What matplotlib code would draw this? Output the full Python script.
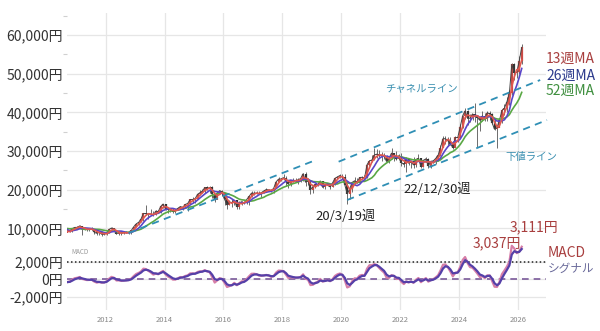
import matplotlib
matplotlib.use("Agg")
import matplotlib.pyplot as plt
import matplotlib.dates as mdates
from matplotlib.ticker import FuncFormatter, MultipleLocator
import pandas as pd

plt.rcParams['font.family'] = ['Noto Sans CJK JP', 'DejaVu Sans']

# monthly candles, 2009-10 .. 2026-02 (first 11 months only warm up the averages)
start = '2009-10'
close = [10035, 9345, 10546,
         10198, 10126, 11090, 11057, 9769, 9383, 9537, 8824, 9369, 9202, 9937, 10229,
         10238, 10624, 9755, 9850, 9694, 9816, 9833, 8955, 8700, 8988, 8435, 8455,
         8803, 9723, 10084, 9521, 8543, 9007, 8695, 8840, 8870, 8928, 9446, 10395,
         11139, 11559, 12398, 13861, 13775, 13677, 13668, 13389, 14456, 14328, 15662, 16291,
         14915, 14841, 14828, 14304, 14632, 15162, 15621, 15425, 16174, 16414, 17460, 17451,
         17674, 18798, 19207, 19520, 20563, 20236, 20585, 18890, 17388, 19083, 19747, 19034,
         17518, 16027, 16759, 16666, 17235, 15576, 16569, 16887, 16450, 17425, 18308, 19114,
         19041, 19119, 18909, 19197, 19651, 20033, 19925, 19646, 20356, 22012, 22725, 22765,
         23098, 22068, 21454, 22468, 22202, 22305, 22554, 22865, 24120, 21920, 22351, 20015,
         20773, 21385, 21206, 22259, 20601, 21276, 21522, 20704, 21756, 22927, 23294, 23657,
         23205, 21143, 18917, 20194, 21878, 22288, 21710, 23140, 23185, 22977, 26434, 27444,
         27663, 28966, 29179, 28813, 28860, 28792, 27284, 28090, 29453, 28893, 27822, 28792,
         27002, 26527, 27821, 26848, 27280, 26393, 27802, 28092, 25937, 27587, 27969, 26095,
         27327, 27446, 28041, 28856, 30888, 33189, 33172, 32619, 31858, 30859, 33487, 33464,
         36287, 39166, 40369, 38406, 38488, 39583, 39102, 38648, 37920, 39081, 38208, 39895,
         39572, 37156, 35618, 36045, 37965, 40487, 41070, 42718, 44933, 52411, 50254, 50339,
         53300, 56800]
high = [10336, 10110, 10639,
        10982, 10269, 11097, 11408, 11000, 10251, 9800, 9642, 9627, 9691, 10115, 10371,
        10592, 10891, 10693, 9850, 10017, 9868, 10207, 9890, 9052, 9152, 9050, 8727,
        8866, 9866, 10255, 10190, 9500, 9007, 9136, 9222, 9288, 9180, 9490, 10433,
        11256, 11662, 12650, 13979, 15942, 13800, 14953, 14466, 14817, 14828, 15727, 16320,
        16164, 14924, 15312, 15164, 14700, 15376, 15646, 15759, 16374, 16533, 17520, 18030,
        17850, 18826, 19778, 20133, 20655, 20953, 20850, 20946, 18770, 19160, 20012, 20012,
        18951, 17905, 17291, 17613, 17251, 16944, 16938, 16943, 17066, 17446, 18361, 19592,
        19615, 19668, 19656, 19445, 19961, 20318, 20195, 20080, 20481, 22080, 23382, 22953,
        24129, 23486, 21970, 22467, 23050, 22966, 22949, 22869, 24286, 24448, 22698, 22574,
        20941, 21556, 21860, 22362, 22307, 21464, 21823, 21540, 22255, 22974, 23608, 24091,
        24115, 23995, 21719, 20365, 21916, 23185, 22963, 23338, 23564, 23725, 26716, 27602,
        28979, 30714, 30485, 30208, 29685, 29480, 28852, 28455, 30795, 29388, 29960, 29121,
        29388, 27880, 28338, 27580, 27495, 28389, 27849, 29222, 28251, 27656, 28502, 28142,
        27520, 27697, 28734, 28879, 31560, 33772, 33753, 33488, 33634, 32533, 33853, 33824,
        36984, 39426, 41087, 40697, 39437, 39637, 42426, 38877, 39100, 40257, 39884, 40398,
        40288, 39865, 38220, 36452, 38494, 40852, 42065, 43876, 45852, 52636, 52637, 51000,
        54500, 57600]
low = [9674, 9076, 9382,
       10198, 9868, 10130, 10900, 9460, 9383, 9091, 8796, 8918, 9027, 9123, 9988,
       10229, 10276, 8227, 9440, 9420, 9351, 9780, 8619, 8359, 8343, 8135, 8160,
       8378, 8820, 9623, 9388, 8438, 8238, 8328, 8560, 8680, 8488, 8619, 9420,
       10398, 10926, 11500, 12003, 13555, 12415, 13560, 13188, 13409, 13853, 14000, 15150,
       14808, 13995, 14203, 13885, 13964, 14700, 15155, 14753, 15419, 14529, 16720, 16672,
       16592, 17580, 18578, 19034, 19258, 19990, 19115, 17714, 16901, 17600, 18970, 18413,
       16017, 14865, 16004, 15471, 16106, 14864, 15007, 16046, 16231, 16338, 16111, 18169,
       18650, 18800, 18909, 18224, 19128, 19700, 19850, 19280, 19235, 20400, 21972, 22152,
       22681, 20950, 20347, 21055, 21931, 21857, 21462, 21851, 22307, 20971, 21243, 18948,
       19241, 20315, 20911, 21509, 20553, 20289, 21046, 20110, 20625, 21276, 22851, 23044,
       22892, 21082, 16358, 17646, 19448, 21530, 21710, 21710, 22880, 22948, 22948, 26147,
       27055, 27629, 28308, 28419, 27385, 28012, 27272, 26954, 28050, 27293, 27644, 27594,
       26044, 25775, 24681, 26319, 25688, 25520, 25935, 27650, 25621, 25811, 27236, 25661,
       25662, 27000, 26632, 27427, 28759, 31100, 31791, 31275, 31674, 30538, 31601, 32205,
       33288, 35854, 38271, 36733, 37617, 37950, 37611, 31156, 35247, 37651, 37800, 37880,
       38055, 36857, 35526, 30792, 36100, 37200, 39300, 40100, 41800, 44550, 48235, 49000,
       50000, 52500]

# hand-drawn trend lines (decimal year, price)
chan1_x, chan1_y = [2012.78, 2019.05], [8784, 27400]
chan2_x, chan2_y = [2019.91, 2026.75], [27230, 48360]
floor_x, floor_y = [2020.20, 2026.98], [17320, 38010]

macd_last, signal_last = '3,111円', '3,037円'

dates = pd.date_range(start, periods=len(close), freq='MS') + pd.Timedelta(days=14)
s = pd.Series(close, index=dates)
opn = s.shift(1).fillna(s.iloc[0])
ma13 = s.rolling(3).mean()
ma26 = s.rolling(6).mean()
ma52 = s.rolling(12).mean()
# weekly 12/26/9 MACD expressed in months
macd = s.ewm(span=3.0, adjust=False).mean() - s.ewm(span=7.2, adjust=False).mean()
signal = macd.ewm(span=2.6, adjust=False).mean()


def yr(v):
    y = int(v)
    frac = v - y
    return pd.Timestamp(f'{y}-01-01') + pd.Timedelta(days=frac * 365.25)


W, H = 600, 331
fig = plt.figure(figsize=(6, 3.31), dpi=100)
ax = fig.add_axes([67 / W, 1 - 242 / H, (546 - 67) / W, (242 - 13) / H])
ax2 = fig.add_axes([67 / W, 1 - 310 / H, (546 - 67) / W, (310 - 242) / H], sharex=ax)

grid = '#e6e6e6'
for a in (ax, ax2):
    for sp in a.spines.values():
        sp.set_visible(False)
    a.grid(True, color=grid, lw=0.9)
    a.set_axisbelow(True)
    a.tick_params(length=0, labelsize=10, colors='#333333', pad=3)

# candles
up = s >= opn
ax.vlines(dates, low, high, color='#555555', lw=0.6, zorder=2)
ax.vlines(dates[up], opn[up], s[up], color='#c94a45', lw=1.6, zorder=3)
ax.vlines(dates[~up], opn[~up], s[~up], color='#333333', lw=1.6, zorder=3)
ax.plot(dates, s, color='#444444', lw=0.7, zorder=3)

ax.plot(dates, ma52, color='#5aa845', lw=1.2, zorder=4)
ax.plot(dates, ma26, color='#5a46c8', lw=1.2, zorder=4)
ax.plot(dates, ma13, color='#e0584f', lw=1.2, zorder=4)

for xs, ys in ((chan1_x, chan1_y), (chan2_x, chan2_y), (floor_x, floor_y)):
    ax.plot([yr(v) for v in xs], ys, color='#2f8fb5', lw=1.3, ls=(0, (4, 3)), zorder=5,
            clip_on=False)

ax.set_ylim(6456, 65690)
ax.set_yticks(range(10000, 60001, 10000))
ax.yaxis.set_minor_locator(MultipleLocator(5000))
ax.tick_params(axis='y', which='minor', length=3, color='#d0d0d0', width=0.8)
ax.yaxis.set_major_formatter(FuncFormatter(lambda v, p: f'{int(v):,}円'))
ax.tick_params(axis='x', labelbottom=False)

# MACD panel
ax2.plot(dates, macd, color='#d77fa8', lw=1.6, zorder=3)
ax2.plot(dates, signal, color='#5540a8', lw=1.6, zorder=4)
ax2.axhline(2000, color='#222222', lw=1.1, ls=(0, (1, 1.6)), zorder=2)
ax2.axhline(0, color='#7a5a9a', lw=1.2, ls=(0, (4, 3)), zorder=2)
ax2.set_ylim(-3550, 4360)
ax2.set_yticks([-2000, 0, 2000])
ax2.yaxis.set_major_formatter(FuncFormatter(lambda v, p: f'{int(v):,}円'))
ax2.xaxis.set_major_locator(mdates.YearLocator(2))
ax2.xaxis.set_major_formatter(mdates.DateFormatter('%Y'))
ax2.tick_params(axis='x', labelsize=5.5, colors='#888888', pad=4)
ax2.set_xlim(pd.Timestamp('2010-09-10'), pd.Timestamp('2026-12-13'))


def label(x, y, t, c, size=10):
    fig.text(x / W, 1 - y / H, t, color=c, fontsize=size, va='center', ha='left')


red = '#a83e3e'
label(546, 59, '13週MA', red)
label(546, 76, '26週MA', '#2c3a8c')
label(546, 91, '52週MA', '#3f8f3f')
label(385, 89, 'チャネルライン', '#3a8fb0', 7.5)
label(505, 157, '下値ライン', '#3a8fb0', 7.5)
label(315, 216, '20/3/19週', '#222222', 9.5)
label(403, 189, '22/12/30週', '#222222', 9.5)
label(510, 227, macd_last, red)
label(473, 243, signal_last, red)
label(548, 253, 'MACD', red)
label(548, 268, 'シグナル', '#6a6a9a', 8.4)
label(71, 252, 'MACD', '#999999', 4.5)

fig.savefig('out.png', dpi=100)
